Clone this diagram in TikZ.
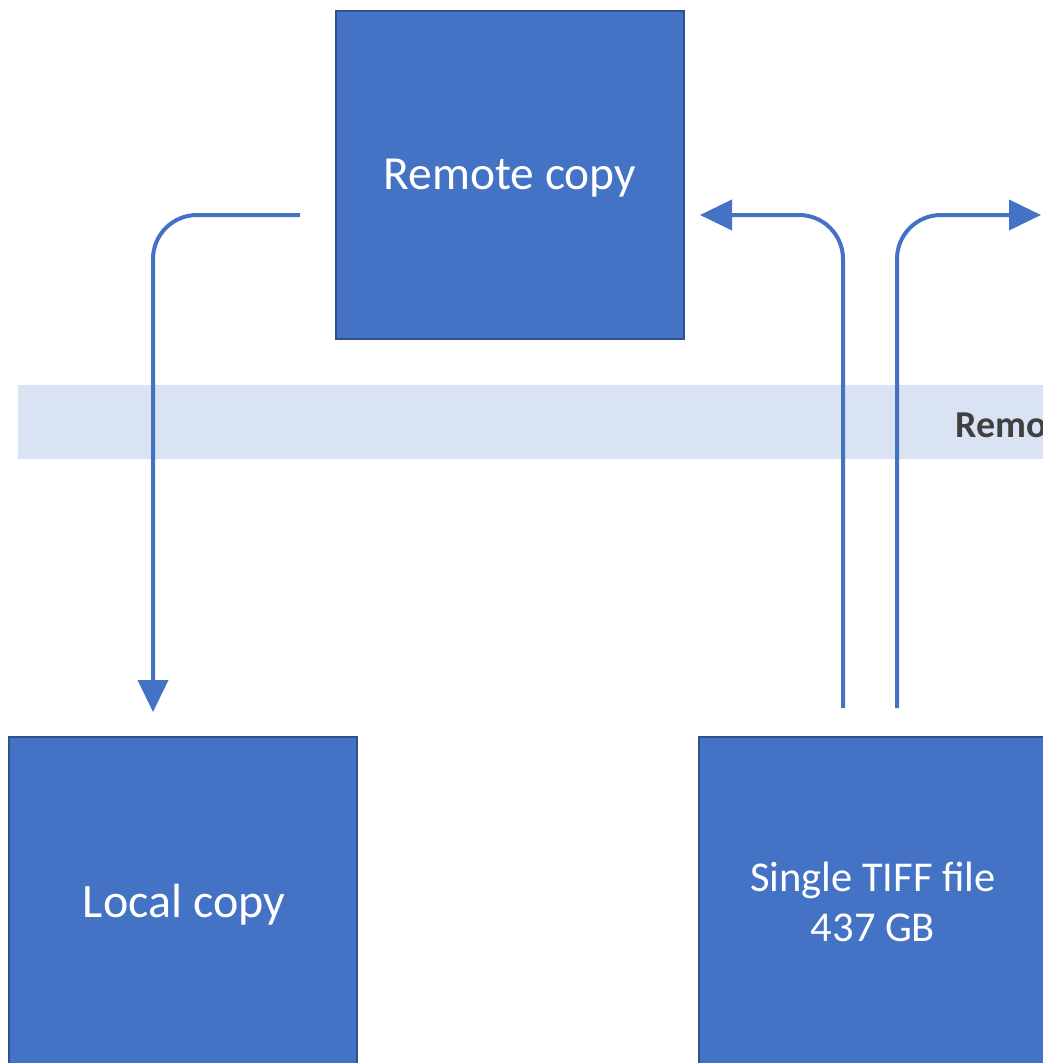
\documentclass[tikz,border=0pt]{standalone}
\usepackage{fontspec}
\setmainfont{Carlito}
\usetikzlibrary{arrows.meta}
\definecolor{boxfill}{HTML}{4472C4}
\definecolor{boxedge}{HTML}{2F528F}
\definecolor{bandfill}{HTML}{DAE3F3}
\definecolor{bandtext}{HTML}{404040}
\tikzset{
  block/.style={draw=boxedge, line width=2.4pt, fill=boxfill},
  flow/.style={draw=boxfill, line width=4pt, rounded corners=44pt,
    -{Triangle[length=32pt,width=30pt]}},
}
\begin{document}
\begin{tikzpicture}[x=1pt,y=-1pt]
  \useasboundingbox (0,0) rectangle (1043,1063);
  \clip (0,0) rectangle (1043,1063);
  \fill[white] (0,0) rectangle (1043,1063);

  % network band
  \fill[bandfill] (18,385) rectangle (1100,459);
  \node[anchor=base west, text=bandtext, font=\fontsize{38}{44}\selectfont\bfseries, inner sep=0pt] (band) at (955,437) {Remote};

  % storage boxes
  \draw[block] (336,11) rectangle (684,339);
  \node[text=white, font=\fontsize{47.5}{56}\selectfont] (remote) at (510,178) {Remote copy};

  \draw[block] (9,737) rectangle (357,1066);
  \node[text=white, font=\fontsize{48}{57}\selectfont] (local) at (184,905) {Local copy};

  \draw[block] (699,737) rectangle (1047,1066);
  \node[text=white, font=\fontsize{42.5}{50}\selectfont, align=center] (tiff) at (873,902) {Single TIFF file\\437 GB};

  % connector anchors
  \coordinate (r1) at (300,215);
  \coordinate (l1) at (153,712);
  \coordinate (t1) at (843,708);
  \coordinate (r2) at (700,215);
  \coordinate (t2) at (897,708);
  \coordinate (o2) at (1041,215);

  % transfers
  \draw[flow] (r1) -| (l1);
  \draw[flow] (t1) |- (r2);
  \draw[flow] (t2) |- (o2);
\end{tikzpicture}
\end{document}
